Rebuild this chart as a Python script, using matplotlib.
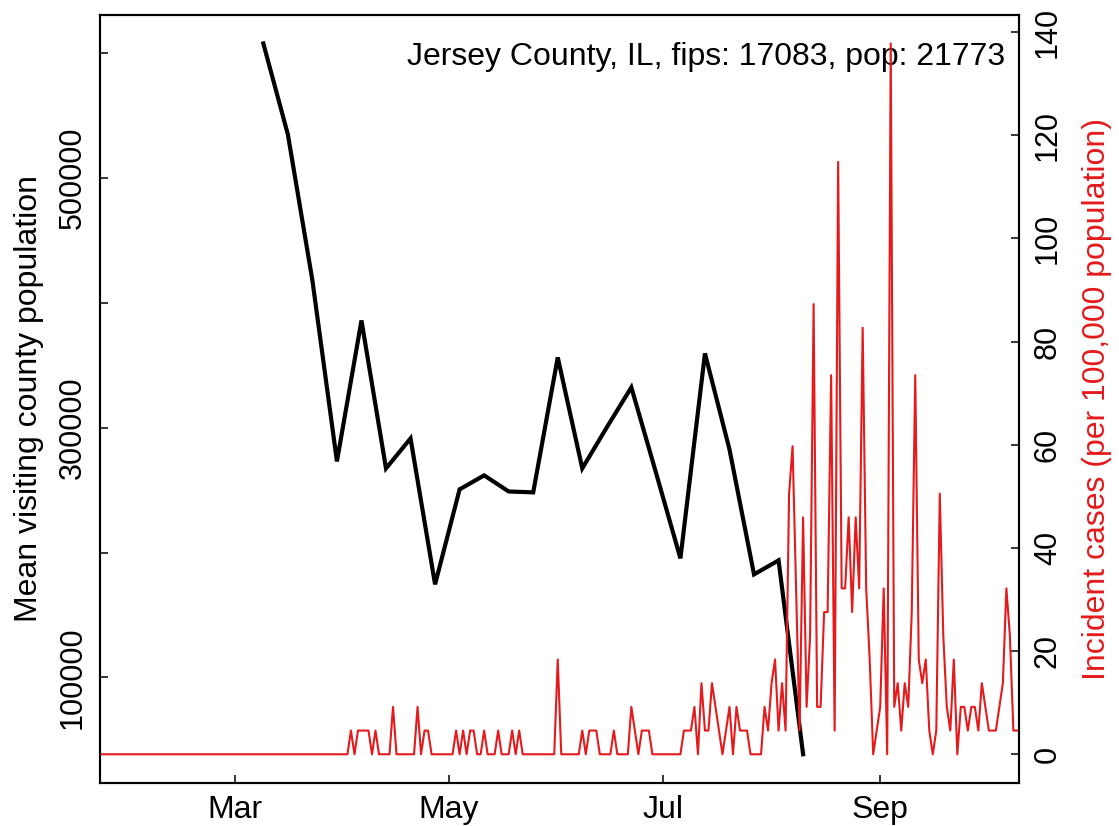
import matplotlib
matplotlib.use('Agg')
import matplotlib.pyplot as plt
import matplotlib.dates as mdates
import pandas as pd

plt.rcParams['font.family'] = ['Liberation Sans', 'DejaVu Sans']

POP = 21773
county_label = "Jersey County, IL, fips: 17083, pop: 21773"

# Weekly mean visiting county population (black line)
visit_start = '2020-03-09'
visit_values = [607800, 534900, 418000, 273000, 385900, 267400, 291400, 174500,
                250600, 261800, 248900, 248200, 356300, 267400, 300300, 332300,
                264200, 195300, 359500, 282600, 182500, 193700, 38400]

# Daily new cases (red line), starting 2020-01-22
case_start = '2020-01-22'
daily_cases = [
    0, 0, 0, 0, 0, 0, 0, 0, 0, 0, 0, 0, 0, 0,
    0, 0, 0, 0, 0, 0, 0, 0, 0, 0, 0, 0, 0, 0,
    0, 0, 0, 0, 0, 0, 0, 0, 0, 0, 0, 0, 0, 0,
    0, 0, 0, 0, 0, 0, 0, 0, 0, 0, 0, 0, 0, 0,
    0, 0, 0, 0, 0, 0, 0, 0, 0, 0, 0, 0, 0, 0,
    0, 0,                                  # to Apr 2
    1, 0, 1, 1, 1, 1, 0, 1, 0, 0, 0, 0, 2, 0,   # Apr 3 - Apr 16
    0, 0, 0, 0, 0, 2, 0, 1, 1, 0, 0, 0, 0, 0,   # Apr 17 - Apr 30
    0, 0, 1, 0, 1, 0, 1, 1, 0, 0, 1, 0, 0, 0,   # May 1 - May 14
    1, 0, 0, 0, 1, 0, 1, 0, 0, 0, 0, 0, 0, 0,   # May 15 - May 28
    0, 0, 0, 4, 0, 0, 0, 0, 0, 0, 1, 0, 1, 1,   # May 29 - Jun 11
    1, 0, 0, 0, 0, 1, 0, 0, 0, 0, 2, 1, 0, 1,   # Jun 12 - Jun 25
    1, 1, 0, 0, 0, 0, 0, 0, 0, 0, 0, 1, 1, 1,   # Jun 26 - Jul 9
    2, 0, 3, 1, 1, 3, 2, 1, 0, 1, 2, 0, 2, 1,   # Jul 10 - Jul 23
    1, 1, 0, 0, 0, 0, 2, 1, 3, 4, 1, 3, 1, 11,  # Jul 24 - Aug 6
    13, 7, 1, 10, 2, 5, 19, 2, 2, 6, 6, 16, 1, 25,  # Aug 7 - Aug 20
    7, 7, 10, 6, 10, 7, 18, 7, 4, 0, 1, 2, 7, 0,    # Aug 21 - Sep 3
    30, 2, 3, 1, 3, 2, 6, 16, 4, 3, 4, 1, 0, 1,     # Sep 4 - Sep 17
    11, 5, 2, 1, 4, 0, 2, 2, 1, 2, 2, 1, 3, 2,      # Sep 18 - Oct 1
    1, 1, 1, 2, 3, 7, 5, 1, 1,                      # Oct 2 - Oct 10
]

tick_dates = ['2020-03-01', '2020-05-01', '2020-07-01', '2020-09-01']
tick_labels = ['Mar', 'May', 'Jul', 'Sep']
left_ticks = [100000, 200000, 300000, 400000, 500000, 600000]
left_tick_labels = ['100000', '', '300000', '', '500000', '']
right_ticks = [0, 20, 40, 60, 80, 100, 120, 140]

RED = '#E41A1C'
TICK_FS = 22
LABEL_FS = 23

visit_dates = pd.date_range(visit_start, periods=len(visit_values), freq='7D')
case_dates = pd.date_range(case_start, periods=len(daily_cases), freq='D')
incidence = [c / POP * 100000 for c in daily_cases]

fig = plt.figure(figsize=(11.19, 8.26), dpi=100)
ax = fig.add_axes([100 / 1119, 1 - 782.7 / 826, 919 / 1119, 767.7 / 826])
ax2 = ax.twinx()

ax.plot(visit_dates, visit_values, color='black', lw=3, solid_joinstyle='miter')
ax2.plot(case_dates, incidence, color=RED, lw=1.5)

x0 = mdates.date2num(pd.Timestamp('2020-03-01'))
ax.set_xlim(x0 - 38.6, x0 + 223.6)
vmin, vmax = min(visit_values), max(visit_values)
pad_l = 0.04 * (vmax - vmin)
ax.set_ylim(vmin - pad_l, vmax + pad_l)
imax = max(incidence)
ax2.set_ylim(-0.04 * imax, imax * 1.04)

ax.set_xticks([mdates.date2num(pd.Timestamp(d)) for d in tick_dates])
ax.set_xticklabels(tick_labels, fontsize=LABEL_FS)
ax.set_yticks(left_ticks)
ax.set_yticklabels(left_tick_labels, fontsize=TICK_FS, rotation=90, va='center')
ax2.set_yticks(right_ticks)
ax2.set_yticklabels([str(t) for t in right_ticks], fontsize=TICK_FS, rotation=90, va='center')

for a in (ax, ax2):
    a.tick_params(direction='in', length=5.8, width=1.1)
    for s in a.spines.values():
        s.set_linewidth(1.5)
ax.tick_params(axis='x', pad=9)
ax.tick_params(axis='y', pad=9)
ax2.tick_params(axis='y', pad=10)

ax.set_ylabel('Mean visiting county population', fontsize=LABEL_FS, labelpad=10)
ax2.set_ylabel('Incident cases (per 100,000 population)', fontsize=LABEL_FS, color=RED, labelpad=14)

ax.text(0.985, 0.945, county_label, transform=ax.transAxes, ha='right', va='center', fontsize=LABEL_FS)

fig.savefig('out.png', dpi=100)
